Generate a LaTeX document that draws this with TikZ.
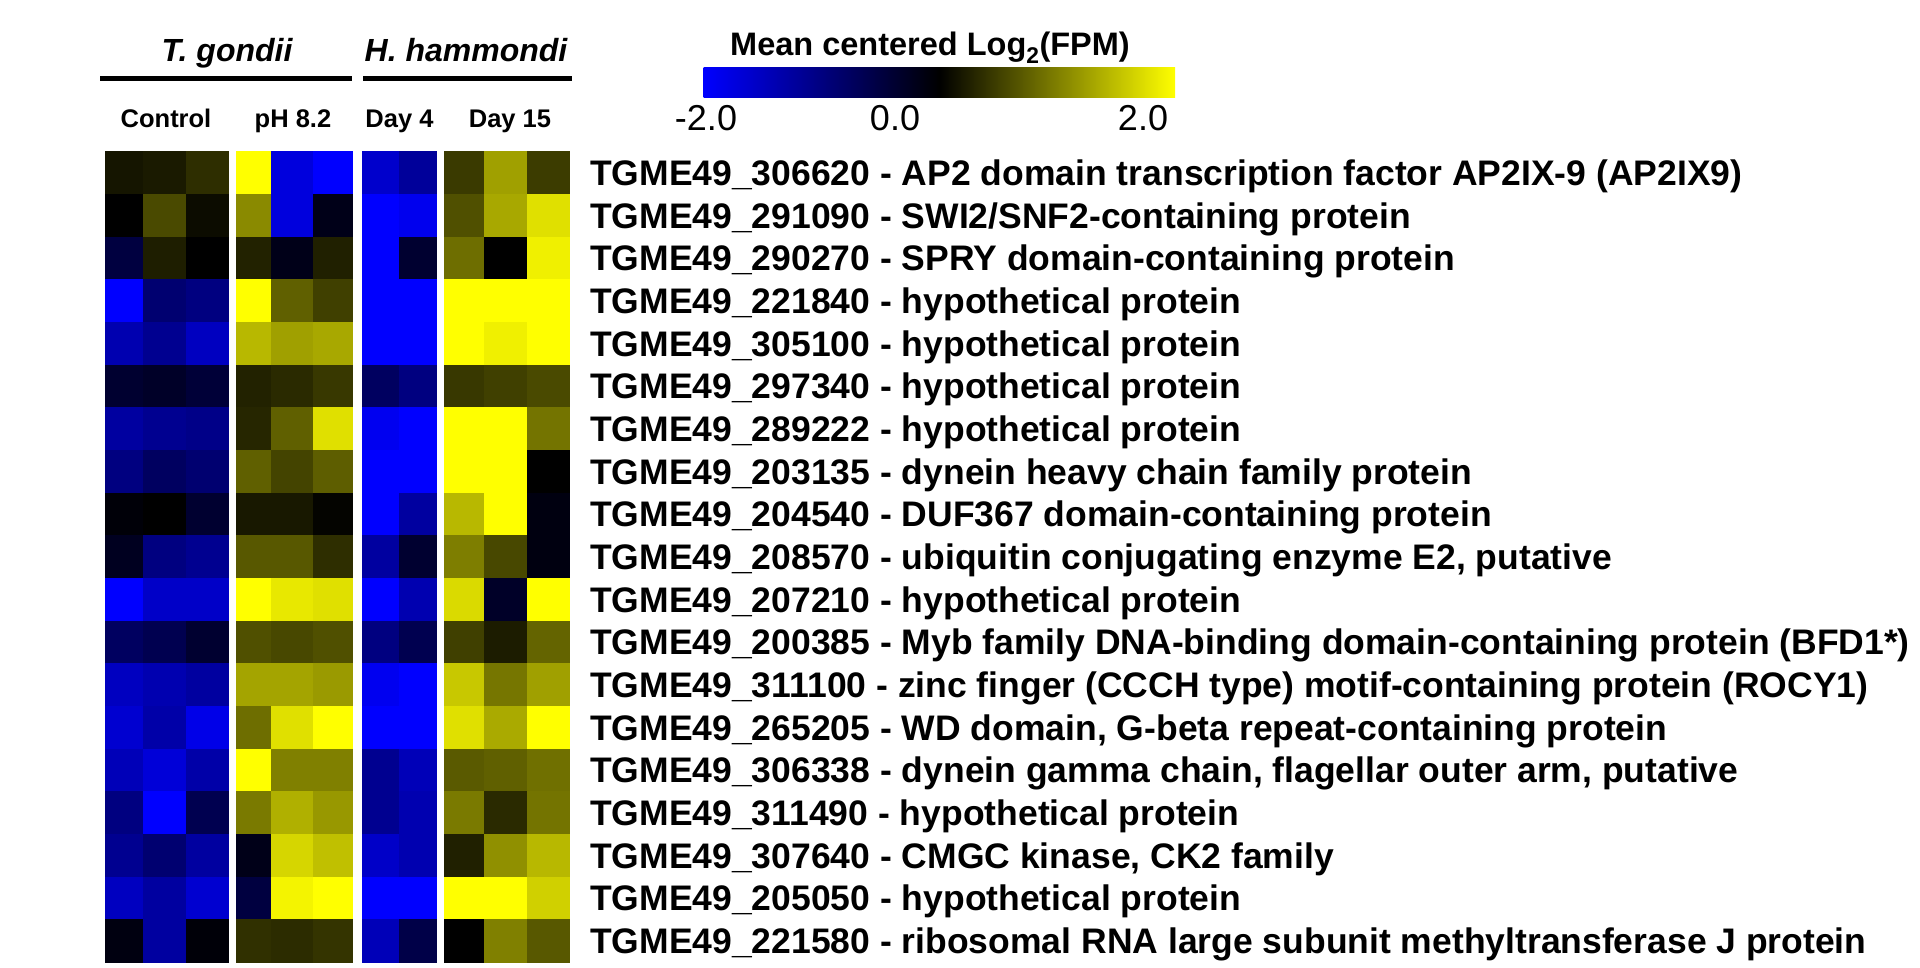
\documentclass[tikz,border=0pt]{standalone}
\usepackage{fontspec}
\setmainfont{Liberation Sans}
\begin{document}
\begin{tikzpicture}[x=1pt,y=-1pt,
  gene/.style={anchor=base west,inner sep=0pt,font=\fontsize{35.5}{42}\selectfont\bfseries},
  grp/.style={anchor=base,inner sep=0pt,font=\fontsize{32}{38}\selectfont\bfseries\itshape},
  sub/.style={anchor=base,inner sep=0pt,font=\fontsize{25.5}{30}\selectfont\bfseries},
  tick/.style={anchor=base,inner sep=0pt,font=\fontsize{36}{43}\selectfont},
  grpline/.style={line width=4.5pt}]
\fill[white] (0,0) rectangle (1920,968);
\useasboundingbox (0,0) rectangle (1920,968);
% heatmap cells
\def\xl{{105,143.3,186.7,236,271.7,313.3,362,399.3,444,484.3,527.3}}
\def\xr{{143.3,186.7,228.3,271.7,313.3,352.5,399.3,436.7,484.3,527.3,569.3}}
\foreach \r [count=\i] in {
{151500,1A1A00,2E2E00,FFFF00,0000DD,0000FF,0000CC,00009A,3A3A00,A0A000,3C3C00},
{000000,4A4A00,0C0C00,8A8A00,0000DD,000018,0000FF,0000EE,505000,A8A800,E0E000},
{000040,1E1E00,000000,222200,000018,202000,0000FF,000030,6E6E00,000000,F0F000},
{0000FF,000070,000080,FFFF00,606000,404000,0000FF,0000FF,FFFF00,FFFF00,FFFF00},
{0000B0,000090,0000C0,B8B800,A0A000,A8A800,0000FF,0000FF,FFFF00,F0F000,FFFF00},
{000030,000028,000038,222200,2A2A00,383800,000060,000080,383800,404000,4A4A00},
{0000A0,000090,000088,262600,606000,E0E000,0000F0,0000FF,FFFF00,FFFF00,747400},
{000080,000060,000070,606000,444400,5E5E00,0000FF,0000FF,FFFF00,FFFF00,000000},
{000008,000000,000030,181800,181800,040400,0000FF,0000A0,B8B800,FFFF00,000010},
{000020,000080,000090,585800,585800,2E2E00,0000A0,000030,7E7E00,484800,000010},
{0000FF,0000C8,0000C8,FFFF00,E8E800,E0E000,0000FF,0000B0,DADA00,000028,FFFF00},
{000060,000050,000030,505000,484800,505000,000080,000050,404000,1C1C00,646400},
{0000C0,0000B0,0000A0,A4A400,A4A400,9A9A00,0000F0,0000FF,C8C800,767600,A0A000},
{0000D0,0000A8,0000E8,6E6E00,E0E000,FFFF00,0000FF,0000FF,E0E000,AAAA00,FFFF00},
{0000B8,0000D8,0000A8,FFFF00,808000,808000,000090,0000B8,5A5A00,606000,707000},
{000080,0000FF,000050,7A7A00,B0B000,989800,000090,0000B0,7A7A00,2A2A00,747400},
{000090,000070,0000A0,000018,D6D600,C0C000,0000C8,0000B0,202000,909000,B8B800},
{0000C0,0000A0,0000D0,000040,F4F400,FFFF00,0000FF,0000FF,FFFF00,FFFF00,D0D000},
{000010,0000A0,000008,303000,2C2C00,343400,0000B8,000048,000000,808000,585800}} {
  \foreach \c [count=\j] in \r {
    \pgfmathsetmacro\ca{\xl[\j-1]-0.3}
    \pgfmathsetmacro\cb{\xr[\j-1]+0.3}
    \pgfmathsetmacro\ct{151.7+42.67*(\i-1)-0.3}
    \pgfmathsetmacro\cu{151.7+42.67*\i+0.3}
    \definecolor{cellc}{HTML}{\c}
    \fill[cellc] (\ca,\ct) rectangle (\cb,\cu);
  }
}
% group headers
\node[grp] (tg) at (227,62) {T. gondii};
\node[grp] (hh) at (466,62) {H. hammondi};
\coordinate (tgl) at (100,78.5);
\coordinate (tgr) at (352,78.5);
\coordinate (hhl) at (363,78.5);
\coordinate (hhr) at (572,78.5);
\draw[grpline] (tgl) -- (tgr);
\draw[grpline] (hhl) -- (hhr);
\node[sub] (s1) at (166,128) {Control};
\node[sub] (s2) at (293,128) {pH 8.2};
\node[sub] (s3) at (399.5,128) {Day 4};
\node[sub] (s4) at (510,128) {Day 15};
% colour bar
\shade[left color=blue,right color=yellow,middle color=black] (703.5,68) rectangle (1175,98);
\node[anchor=base,inner sep=0pt,font=\fontsize{32.5}{39}\selectfont\bfseries] (cbt) at (930,56) {Mean centered Log\textsubscript{2}(FPM)};
\node[tick] (t1) at (706,131) {-2.0};
\node[tick] (t2) at (895,131) {0.0};
\node[tick] (t3) at (1143,131) {2.0};
% gene labels
\node[gene] (g1) at (590,{151.7+42.67*0.5+12.5}) {TGME49\_306620 - AP2 domain transcription factor AP2IX-9 (AP2IX9)};
\node[gene] (g2) at (590,{151.7+42.67*1.5+12.5}) {TGME49\_291090 - SWI2/SNF2-containing protein};
\node[gene] (g3) at (590,{151.7+42.67*2.5+12.5}) {TGME49\_290270 - SPRY domain-containing protein};
\node[gene] (g4) at (590,{151.7+42.67*3.5+12.5}) {TGME49\_221840 - hypothetical protein};
\node[gene] (g5) at (590,{151.7+42.67*4.5+12.5}) {TGME49\_305100 - hypothetical protein};
\node[gene] (g6) at (590,{151.7+42.67*5.5+12.5}) {TGME49\_297340 - hypothetical protein};
\node[gene] (g7) at (590,{151.7+42.67*6.5+12.5}) {TGME49\_289222 - hypothetical protein};
\node[gene] (g8) at (590,{151.7+42.67*7.5+12.5}) {TGME49\_203135 - dynein heavy chain family protein};
\node[gene] (g9) at (590,{151.7+42.67*8.5+12.5}) {TGME49\_204540 - DUF367 domain-containing protein};
\node[gene] (g10) at (590,{151.7+42.67*9.5+12.5}) {TGME49\_208570 - ubiquitin conjugating enzyme E2, putative};
\node[gene] (g11) at (590,{151.7+42.67*10.5+12.5}) {TGME49\_207210 - hypothetical protein};
\node[gene] (g12) at (590,{151.7+42.67*11.5+12.5}) {TGME49\_200385 - Myb family DNA-binding domain-containing protein (BFD1*)};
\node[gene] (g13) at (590,{151.7+42.67*12.5+12.5}) {TGME49\_311100 - zinc finger (CCCH type) motif-containing protein (ROCY1)};
\node[gene] (g14) at (590,{151.7+42.67*13.5+12.5}) {TGME49\_265205 - WD domain, G-beta repeat-containing protein};
\node[gene] (g15) at (590,{151.7+42.67*14.5+12.5}) {TGME49\_306338 - dynein gamma chain, flagellar outer arm, putative};
\node[gene] (g16) at (590,{151.7+42.67*15.5+12.5}) {TGME49\_311490 - hypothetical protein};
\node[gene] (g17) at (590,{151.7+42.67*16.5+12.5}) {TGME49\_307640 - CMGC kinase, CK2 family};
\node[gene] (g18) at (590,{151.7+42.67*17.5+12.5}) {TGME49\_205050 - hypothetical protein};
\node[gene] (g19) at (590,{151.7+42.67*18.5+12.5}) {TGME49\_221580 - ribosomal RNA large subunit methyltransferase J protein};
\end{tikzpicture}
\end{document}
